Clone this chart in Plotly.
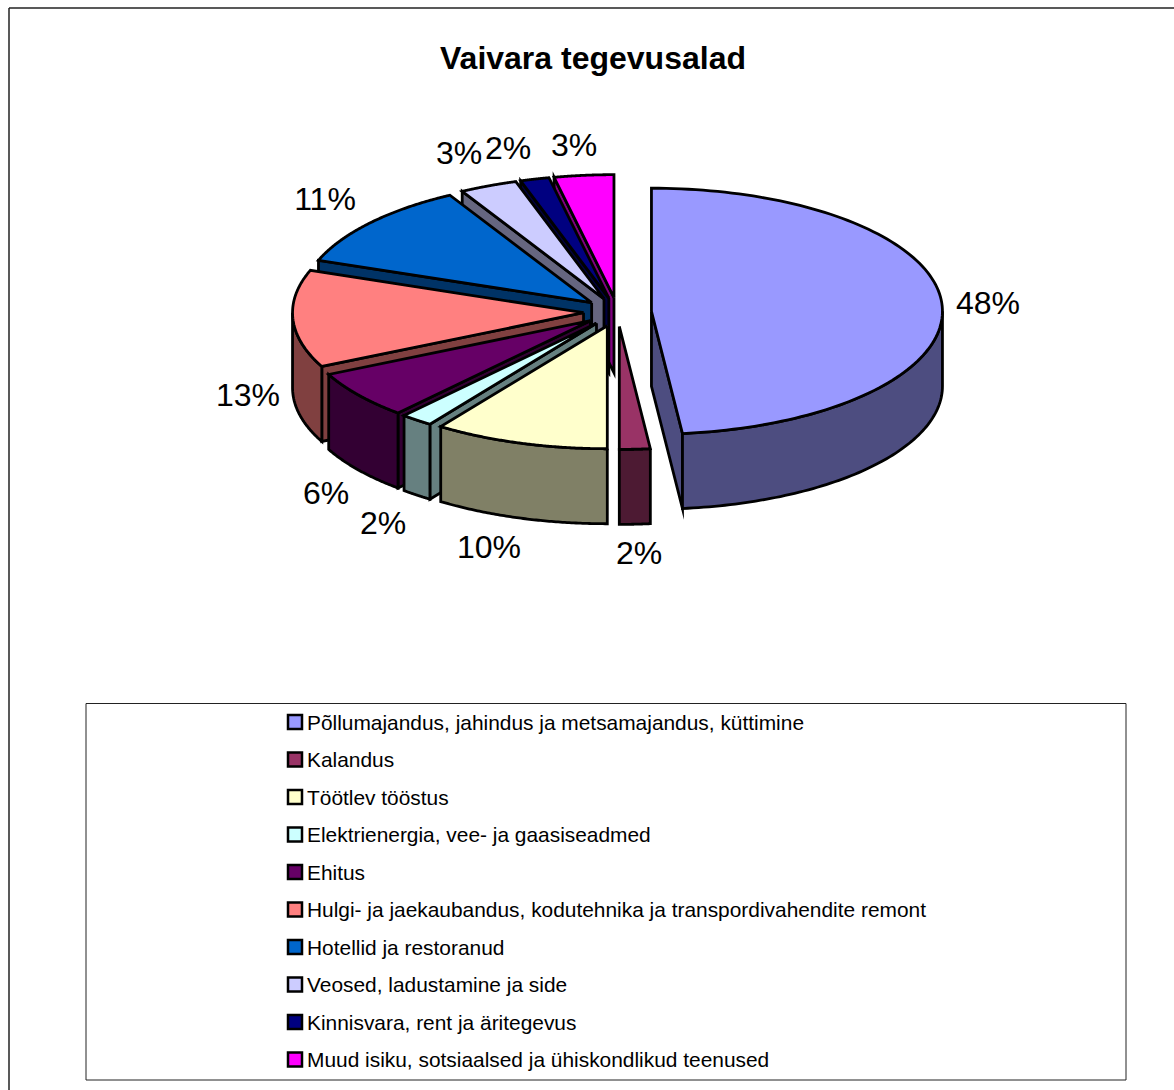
import numpy as np
import plotly.graph_objects as go

TITLE = "Vaivara tegevusalad"
categories = [
    "Põllumajandus, jahindus ja metsamajandus, küttimine",
    "Kalandus",
    "Töötlev tööstus",
    "Elektrienergia, vee- ja gaasiseadmed",
    "Ehitus",
    "Hulgi- ja jaekaubandus, kodutehnika ja transpordivahendite remont",
    "Hotellid ja restoranud",
    "Veosed, ladustamine ja side",
    "Kinnisvara, rent ja äritegevus",
    "Muud isiku, sotsiaalsed ja ühiskondlikud teenused",
]
values = [48.3, 1.7, 9.7, 1.8, 6.3, 12.8, 11.3, 3.2, 1.6, 3.3]
colors = ["#9999FF", "#993366", "#FFFFCC", "#CCFFFF", "#660066",
          "#FF8080", "#0066CC", "#CCCCFF", "#000080", "#FF00FF"]
dark_colors = ["#4D4D80", "#4D1A33", "#808066", "#668080", "#330033",
               "#804040", "#003366", "#666680", "#000040", "#800080"]

# Pie projection (page pixels are the axis units)
CX, CY = 617.5, 312.0
RX, RY = 291.0, 123.0
DEPTH = 75.0
EXPLODE_X, EXPLODE_Y = 34.0, 14.4
EDGE = 2.8

# Label anchor positions, one per slice
label_x = [988, 639, 489, 383, 326, 248, 325, 459, 508, 574]
label_y = [306, 556, 550, 526, 496, 398, 202, 156, 151, 148]

total = sum(values)
edges = np.concatenate([[0.0], np.cumsum(values)]) / total * 2 * np.pi


def rim(ax, ay, t):
    return ax + RX * np.sin(t), ay - RY * np.cos(t)


def poly(fig, xs, ys, fill, name):
    fig.add_trace(go.Scatter(
        x=list(xs), y=list(ys), mode="lines", fill="toself", fillcolor=fill,
        line=dict(color="black", width=EDGE, simplify=False),
        hoverinfo="text", text=name, showlegend=False,
    ))


fig = go.Figure()
draw_order = [9, 8, 7, 6, 5, 4, 3, 2, 1, 0]
for i in draw_order:
    t0, t1 = edges[i], edges[i + 1]
    mid = (t0 + t1) / 2
    ax = CX + EXPLODE_X * np.sin(mid)
    ay = CY - EXPLODE_Y * np.cos(mid)
    name = categories[i]

    # cut face on the start side, seen when it turns towards the viewer
    if np.sin(t0) < -1e-6:
        ex, ey = rim(ax, ay, t0)
        poly(fig, [ax, ex, ex, ax, ax], [ay, ey, ey + DEPTH, ay + DEPTH, ay],
             dark_colors[i], name)
    # cut face on the end side
    if np.sin(t1) > 1e-6:
        ex, ey = rim(ax, ay, t1)
        poly(fig, [ax, ex, ex, ax, ax], [ay, ey, ey + DEPTH, ay + DEPTH, ay],
             dark_colors[i], name)
    # outer wall: part of the rim on the near half
    lo, hi = max(t0, np.pi / 2), min(t1, 3 * np.pi / 2)
    if hi > lo:
        t = np.linspace(lo, hi, 80)
        wx, wy = rim(ax, ay, t)
        poly(fig, np.concatenate([wx, wx[::-1], wx[:1]]),
             np.concatenate([wy, wy[::-1] + DEPTH, wy[:1]]),
             dark_colors[i], name)
    # top face
    t = np.linspace(t0, t1, 120)
    tx, ty = rim(ax, ay, t)
    poly(fig, np.concatenate([[ax], tx, [ax]]), np.concatenate([[ay], ty, [ay]]),
         colors[i], name)

# Percentage labels
fig.add_trace(go.Scatter(
    x=label_x, y=label_y, mode="text",
    text=[f"{round(v / total * 100)}%" for v in values],
    textposition="middle center",
    textfont=dict(family="Liberation Sans", size=32, color="black"),
    hoverinfo="skip", showlegend=False,
))

# Legend
LEG_KEY_X, LEG_TEXT_X = 295, 305
leg_y = 722 + 37.5 * np.arange(len(categories))
fig.add_trace(go.Scatter(
    x=[LEG_KEY_X] * len(categories), y=leg_y, mode="markers",
    marker=dict(symbol="square", size=14, color=colors,
                line=dict(color="black", width=2.5)),
    hovertext=categories, hoverinfo="text", showlegend=False,
))
annotations = [
    dict(x=LEG_TEXT_X, y=float(y), xref="x", yref="y", text=c, showarrow=False,
         xanchor="left", yanchor="middle",
         font=dict(family="Liberation Sans", size=20.9, color="black"))
    for c, y in zip(categories, leg_y)
]
annotations.append(dict(
    x=593, y=57.5, xref="x", yref="y", text=f"<b>{TITLE}</b>", showarrow=False,
    xanchor="center", yanchor="middle",
    font=dict(family="Liberation Sans", size=32, color="black"),
))

shapes = [
    dict(type="rect", xref="x", yref="y", x0=86, x1=1126, y0=703.5, y1=1080,
         line=dict(color="#222222", width=1)),
    dict(type="line", xref="x", yref="y", x0=9, x1=1174, y0=8, y1=8,
         line=dict(color="#222222", width=1.5)),
    dict(type="line", xref="x", yref="y", x0=9, x1=9, y0=8, y1=1090,
         line=dict(color="#222222", width=1.5)),
]

fig.update_layout(
    width=1174, height=1090, margin=dict(l=0, r=0, t=0, b=0),
    paper_bgcolor="white", plot_bgcolor="white", showlegend=False,
    xaxis=dict(range=[0, 1174], visible=False, fixedrange=True),
    yaxis=dict(range=[1090, 0], visible=False, fixedrange=True),
    annotations=annotations, shapes=shapes,
)

POST = """
document.body.style.margin='0';
document.body.style.overflow='hidden';
document.querySelectorAll('.scatterlayer path.js-line').forEach(function(p){
  p.style.strokeLinejoin='miter'; p.style.strokeMiterlimit='12';
});
"""
fig.write_html("out.html", post_script=POST, config={"displayModeBar": False})
